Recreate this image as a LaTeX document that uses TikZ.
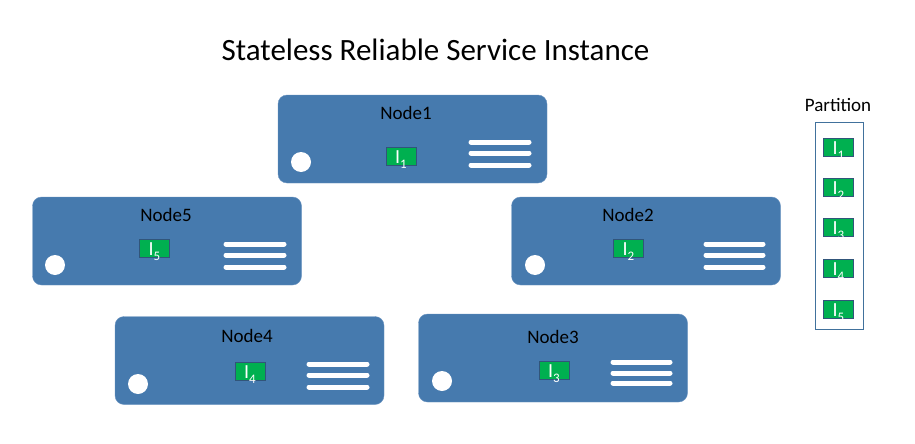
\documentclass[tikz,border=0pt]{standalone}
\usepackage{fontspec}
\setmainfont{Carlito}
\definecolor{srvblue}{HTML}{467AAE}
\definecolor{srvedge}{HTML}{6A93C0}
\definecolor{instgreen}{HTML}{00B050}
\definecolor{partedge}{HTML}{41719C}
\newcommand{\instlbl}[1]{I\raisebox{-5pt}{\fontsize{13}{13}\selectfont #1}}

\begin{document}
\begin{tikzpicture}[x=1pt,y=-1pt,
    server/.style={rectangle,rounded corners=9pt,fill=srvblue,draw=srvedge,
      minimum width=269pt,minimum height=88pt,inner sep=0pt},
    srvname/.style={font=\fontsize{19}{22}\selectfont,text=black},
    led/.style={circle,fill=white,minimum size=20pt,inner sep=0pt},
    inst/.style={rectangle,fill=instgreen,draw=srvblue!70!black,line width=.4pt,
      minimum width=30pt,minimum height=18pt,inner sep=0pt,text=white,
      text height=14pt,text depth=0pt,font=\fontsize{20}{20}\selectfont},
    slot/.style={draw=white,line width=5pt,line cap=round}]

  \useasboundingbox (0,0) rectangle (915,444);

  \node (title) at (435.5,50) {\fontsize{31}{36}\selectfont Stateless Reliable Service Instance};

  % servers
  \begin{scope}[every node/.style={server}]
    \node (n1) at (412.5,139) {};
    \node (n5) at (167,241) {};
    \node (n2) at (646,241) {};
    \node (n4) at (249.5,360.5) {};
    \node (n3) at (553,358) {};
  \end{scope}

  \begin{scope}[every node/.style={srvname}]
    \node (l1) at (406,113) {Node1};
    \node (l5) at (166,215) {Node5};
    \node (l2) at (628,215) {Node2};
    \node (l4) at (247,336) {Node4};
    \node (l3) at (553,337) {Node3};
  \end{scope}

  \begin{scope}[every node/.style={led}]
    \node (c1) at (301,162) {};
    \node (c5) at (55,265) {};
    \node (c2) at (535,265) {};
    \node (c4) at (138,384) {};
    \node (c3) at (442,381) {};
  \end{scope}

  \begin{scope}[every node/.style={inst}]
    \node (i1) at (401,156) {\instlbl{1}};
    \node (i5) at (154.5,248) {\instlbl{5}};
    \node (i2) at (628.5,248) {\instlbl{2}};
    \node (i4) at (250,371) {\instlbl{4}};
    \node (i3) at (554,370) {\instlbl{3}};
  \end{scope}

  % drive slots
  \foreach \y in {142,153,165} \draw[slot] (471,\y) -- (529,\y);
  \foreach \y in {244,255,267} \draw[slot] (226,\y) -- (284,\y);
  \foreach \y in {244,255,267} \draw[slot] (706,\y) -- (763,\y);
  \foreach \y in {364,375,387} \draw[slot] (309,\y) -- (367,\y);
  \foreach \y in {362,373,383} \draw[slot] (613,\y) -- (670,\y);

  % partition
  \node[font=\fontsize{19}{22}\selectfont] (ptitle) at (838,105) {Partition};
  \node[draw=partedge,line width=.8pt,minimum width=48pt,minimum height=207pt,
    inner sep=0pt] (part) at (839,225.5) {};
  \begin{scope}[every node/.style={inst}]
    \node (p1) at (838.5,147.5) {\instlbl{1}};
    \node (p2) at (838.5,187.5) {\instlbl{2}};
    \node (p3) at (838.5,227.5) {\instlbl{3}};
    \node (p4) at (838.5,268.5) {\instlbl{4}};
    \node (p5) at (838.5,309.5) {\instlbl{5}};
  \end{scope}

\end{tikzpicture}
\end{document}
